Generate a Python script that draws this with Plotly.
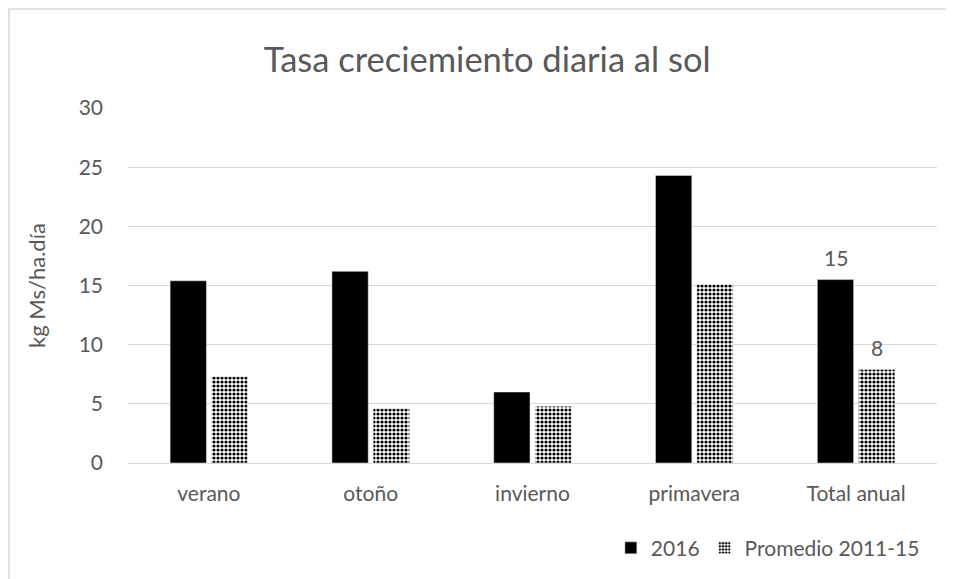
import plotly.graph_objects as go

categorias = ["verano", "otoño", "invierno", "primavera", "Total anual"]
valores_2016 = [15.4, 16.2, 6.0, 24.3, 15.5]
valores_promedio = [7.3, 4.6, 4.8, 15.1, 7.9]
etiquetas_2016 = ["", "", "", "", "15"]
etiquetas_promedio = ["", "", "", "", "8"]

gris = "#595959"
fuente = "Lato"

fig = go.Figure()
fig.add_trace(go.Bar(
    x=categorias, y=valores_2016, name="2016",
    marker=dict(color="black"),
))
fig.add_trace(go.Bar(
    x=categorias, y=valores_promedio, name="Promedio 2011-15",
    marker=dict(color="white",
                pattern=dict(shape=".", fgcolor="black", bgcolor="white",
                             size=4, solidity=0.5, fillmode="replace")),
))

# data labels, sat a little above each bar of its group
for valores, etiquetas, dx in [(valores_2016, etiquetas_2016, -20.5),
                               (valores_promedio, etiquetas_promedio, 20.5)]:
    for cat, v, t in zip(categorias, valores, etiquetas):
        if t:
            fig.add_annotation(x=cat, y=v, text=t, showarrow=False, xshift=dx,
                               yshift=22, font=dict(size=21, color=gris, family=fuente))

fig.update_layout(
    width=954, height=579,
    margin=dict(l=120, r=25, t=100, b=124, autoexpand=False),
    paper_bgcolor="white", plot_bgcolor="white",
    font=dict(family=fuente, color=gris, size=21),
    title=dict(text="Tasa creciemiento diaria al sol", x=0.444, xanchor="center",
               xref="paper", y=1 - 52 / 579, yanchor="middle",
               font=dict(size=34.5, color=gris, family=fuente)),
    barmode="group", bargap=0.49, bargroupgap=0.12,
    showlegend=True,
    legend=dict(orientation="h", x=0.985, xanchor="right", y=-0.24, yanchor="middle",
                font=dict(size=21, color=gris, family=fuente), traceorder="normal",
                itemwidth=30),
    xaxis=dict(showgrid=False, showline=True, linecolor="#d9d9d9", linewidth=1,
               ticks="", tickfont=dict(size=21, color=gris), ticklabelstandoff=12,
               automargin=False),
    yaxis=dict(range=[0, 30], dtick=5, showgrid=True, gridcolor="#d9d9d9",
               zeroline=False, ticks="", tickfont=dict(size=21, color=gris),
               ticklabelstandoff=24, automargin=False,
               title=dict(text="kg Ms/ha.día", font=dict(size=22, color=gris), standoff=26)),
    shapes=[dict(type="rect", xref="paper", yref="paper",
                 x0=-119 / 809, x1=1.2, y0=-0.5, y1=1 + 99 / 355,
                 line=dict(color="#d9d9d9", width=1.5), layer="below")],
)

fig.write_html("out.html")
